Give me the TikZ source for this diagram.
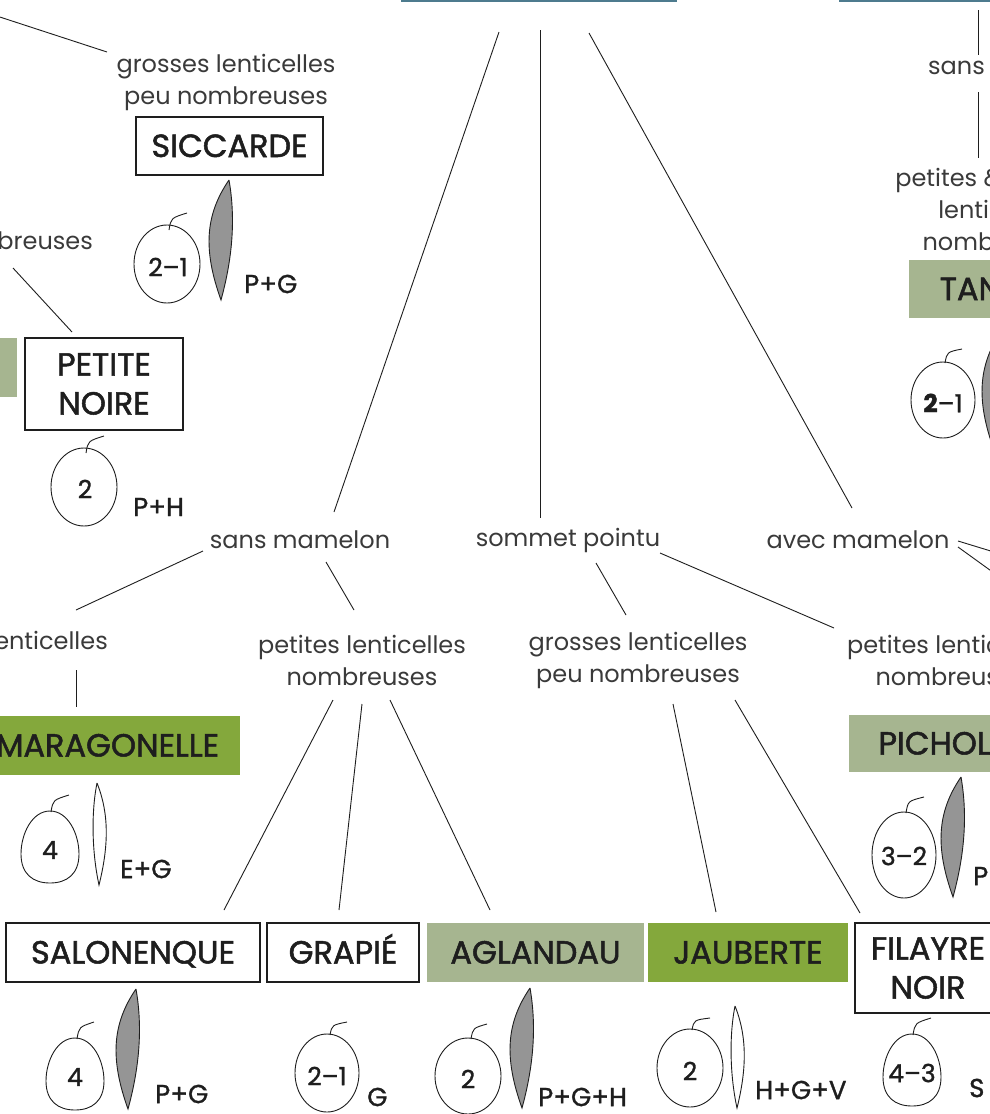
\documentclass[tikz,border=0pt]{standalone}
\usepackage{fontspec}
\setmainfont{Poppins}
\newfontfamily\heavyfam{Poppins}[FakeBold=1.6]
\newfontfamily\midfam{Poppins}[FakeBold=1.2]
\definecolor{brightgreen}{HTML}{84A83C}
\definecolor{sagegreen}{HTML}{A6B590}
\definecolor{leafgray}{HTML}{959595}
\definecolor{topblue}{HTML}{4D7B8E}
\definecolor{labelgray}{HTML}{3A3A3A}
\definecolor{ink}{HTML}{1E1E1E}
\newcommand\lblF{\fontsize{24}{32}\selectfont}
\newcommand\nameF{\heavyfam\fontsize{32}{39}\selectfont}
\newcommand\numF{\midfam\fontsize{25}{28}\selectfont}
\newcommand\codeF{\midfam\fontsize{26}{28}\selectfont}
\begin{document}
\begin{tikzpicture}[x=1pt,y=-1pt,
 crit/.style={font=\lblF, text=labelgray, align=center, inner sep=0pt},
 namebox/.style={font=\nameF, text=ink, align=center, inner sep=0pt, draw=ink, line width=1.4pt, fill=white},
 onerow/.style={text height=22pt, text depth=0pt},
 sagebox/.style={namebox, draw=none, fill=sagegreen},
 greenbox/.style={namebox, draw=none, fill=brightgreen},
 link/.style={draw=ink, line width=0.9pt},
 fruit/.style={draw=ink, line width=0.9pt, fill=white},
 num/.style={font=\numF, text=ink, inner sep=0pt},
 code/.style={font=\codeF, text=ink, inner sep=0pt, anchor=west},
 gleaf/.pic={\draw[draw=ink, line width=0.9pt, fill=leafgray] (0,0) .. controls (-24,35) and (-26,70) .. (-8,120) .. controls (3,80) and (7,40) .. (0,0);},
 wleaf/.pic={\draw[draw=ink, line width=0.9pt, fill=white] (0,0) .. controls (-6,30) and (-5,70) .. (2,102) .. controls (12,62) and (12,30) .. (0,0);},
 egg/.pic={\draw[fruit] (0,-36) .. controls (18,-36) and (29,-13) .. (29,7) .. controls (29,27) and (17,36) .. (0,36) .. controls (-17,36) and (-29,27) .. (-29,7) .. controls (-29,-13) and (-18,-36) .. (0,-36);}
]
\useasboundingbox (0,0) rectangle (990,1114);
\clip (0,0) rectangle (990,1114);
\fill[white] (0,0) rectangle (990,1114);

% top boxes (only bottom edges visible)
\draw[topblue, line width=1.6pt] (402,-80) rectangle (676,1.2);
\draw[topblue, line width=1.6pt] (840,-80) rectangle (1120,1.2);

% criteria labels
\node[crit] (L1) at (226,82) {grosses lenticelles\\peu nombreuses};
\node[crit, anchor=east] (L2) at (93,241) {nombreuses};
\node[crit] (L3) at (300,540) {sans mamelon};
\node[crit] (L4) at (568,540) {sommet pointu};
\node[crit] (L5) at (858,540) {avec mamelon};
\node[crit, anchor=east] (L6) at (108,644) {grosses lenticelles};
\node[crit] (L7) at (362,660) {petites lenticelles\\nombreuses};
\node[crit] (L8) at (638,660) {grosses lenticelles\\peu nombreuses};
\node[crit] (L9) at (951,660) {petites lenticelles\\nombreuses};
\node[crit, anchor=west] (L10) at (928,66) {sans mamelon};
\node[crit] (L11) at (998,209) {petites \& grosses\\lenticelles\\nombreuses};

% variety boxes
\node[namebox, onerow, minimum width=187, minimum height=58] (sic) at (229.5,146) {SICCARDE};
\node[namebox, minimum width=158, minimum height=92] (pn) at (104,384) {PETITE\\NOIRE};
\node[sagebox, minimum width=217, minimum height=59] (lft) at (-91.5,367.5) {};
\node[sagebox, onerow, minimum width=186, minimum height=58] (tan) at (1002,289) {TANCHE};
\node[greenbox, onerow, minimum width=265, minimum height=59] (mar) at (107.5,745.5) {MARAGONELLE};
\node[sagebox, onerow, minimum width=218, minimum height=57] (pic) at (958,743.5) {PICHOLINE};
\node[namebox, onerow, minimum width=254, minimum height=59] (sal) at (133,952.5) {SALONENQUE};
\node[namebox, onerow, minimum width=152, minimum height=59] (gra) at (343,952.5) {GRAPIÉ};
\node[sagebox, onerow, minimum width=217, minimum height=59] (agl) at (535.5,952.5) {AGLANDAU};
\node[greenbox, onerow, minimum width=200, minimum height=59] (jau) at (748,952.5) {JAUBERTE};
\node[namebox, minimum width=146, minimum height=90] (fil) at (928,968) {FILAYRE\\NOIR};

% connector end points
\coordinate (a0) at (-40,4);   \coordinate (a1) at (107,52);
\coordinate (b0) at (499,32);  \coordinate (b1) at (334,512);
\coordinate (c0) at (540,30);  \coordinate (c1) at (540,518);
\coordinate (d0) at (589,33);  \coordinate (d1) at (852,508);
\coordinate (e0) at (13,268);  \coordinate (e1) at (72,332);
\coordinate (f0) at (203,551); \coordinate (f1) at (76,610);
\coordinate (g0) at (326,562); \coordinate (g1) at (354,610);
\coordinate (h0) at (76,670);  \coordinate (h1) at (76,707);
\coordinate (i0) at (333,700); \coordinate (i1) at (224,910);
\coordinate (j0) at (362,704); \coordinate (j1) at (339,910);
\coordinate (k0) at (390,700); \coordinate (k1) at (490,910);
\coordinate (m0) at (596,563); \coordinate (m1) at (626,615);
\coordinate (n0) at (660,553); \coordinate (n1) at (834,628);
\coordinate (o0) at (673,704); \coordinate (o1) at (716,912);
\coordinate (p0) at (735,700); \coordinate (p1) at (860,913);
\coordinate (q0) at (958,541); \coordinate (q1) at (1030,563);
\coordinate (r0) at (958,547); \coordinate (r1) at (1030,599);
\coordinate (s0) at (978,10);  \coordinate (s1) at (978,55);
\coordinate (t0) at (978,92);  \coordinate (t1) at (978,158);

\draw[link] (a0) -- (a1);
\draw[link] (b0) -- (b1);
\draw[link] (c0) -- (c1);
\draw[link] (d0) -- (d1);
\draw[link] (e0) -- (e1);
\draw[link] (f0) -- (f1);
\draw[link] (g0) -- (g1);
\draw[link] (h0) -- (h1);
\draw[link] (i0) -- (i1);
\draw[link] (j0) -- (j1);
\draw[link] (k0) -- (k1);
\draw[link] (m0) -- (m1);
\draw[link] (n0) -- (n1);
\draw[link] (o0) -- (o1);
\draw[link] (p0) -- (p1);
\draw[link] (q0) -- (q1);
\draw[link] (r0) -- (r1);
\draw[link] (s0) -- (s1);
\draw[link] (t0) -- (t1);

% SICCARDE fruit
\draw[fruit] (167,264) ellipse [x radius=33, y radius=39];
\draw[link] (169,230) .. controls (171,218) .. (187,213);
\node[num] (n1) at (168,267) {2–1};
\pic at (229,180) {gleaf};
\node[code] (k1t) at (244,284) {P+G};

% PETITE NOIRE fruit
\draw[fruit] (84,487) ellipse [x radius=33, y radius=39];
\draw[link] (86,453) .. controls (88,441) .. (104,436);
\node[num] (n2) at (85,489) {2};
\node[code] (k2t) at (133,507) {P+H};

% TANCHE fruit
\draw[fruit] (943,400) ellipse [x radius=32, y radius=38];
\draw[link] (945,363) .. controls (947,352) .. (962,349);
\node[num] (n3) at (943,403) {\textbf{2}–1};
\pic at (1002,330) {gleaf};

% MARAGONELLE fruit
\pic at (50,847) {egg};
\draw[link] (51,812) .. controls (53,800) .. (69,795);
\node[num] (n4) at (50,850) {4};
\pic at (97,783) {wleaf};
\node[code] (k4t) at (120,869) {E+G};

% PICHOLINE fruit
\draw[fruit] (904,855) ellipse [x radius=32, y radius=43];
\draw[link] (906,813) .. controls (908,801) .. (924,797);
\node[num] (n5) at (904,856) {3–2};
\pic at (961,777) {gleaf};
\node[code] (k5t) at (973,876) {P+G};

% SALONENQUE fruit
\pic at (75,1074) {egg};
\draw[link] (77,1039) .. controls (79,1027) .. (94,1022);
\node[num] (n6) at (75,1077) {4};
\pic at (136,989) {gleaf};
\node[code] (k6t) at (155,1094) {P+G};

% GRAPIE fruit
\draw[fruit] (327,1073) ellipse [x radius=32, y radius=39];
\draw[link] (330,1035) .. controls (332,1025) .. (347,1022);
\node[num] (n7) at (327,1076) {2–1};
\node[code] (k7t) at (367,1097) {G};

% AGLANDAU fruit
\draw[fruit] (468,1076) ellipse [x radius=33, y radius=38];
\draw[link] (471,1039) .. controls (473,1028) .. (487,1024);
\node[num] (n8) at (468,1079) {2};
\pic at (530,988) {gleaf};
\node[code] (k8t) at (538,1097) {P+G+H};

% JAUBERTE fruit
\draw[fruit] (690,1068) ellipse [x radius=33, y radius=39];
\draw[link] (692,1030) .. controls (694,1020) .. (710,1018);
\node[num] (n9) at (690,1071) {2};
\pic at (735,1006) {wleaf};
\node[code] (k9t) at (755,1090) {H+G+V};

% FILAYRE NOIR fruit
\pic at (912,1070) {egg};
\draw[link] (913,1035) .. controls (915,1023) .. (931,1018);
\node[num] (n10) at (912,1073) {4–3};
\node[code] (k10t) at (969,1088) {S};
\end{tikzpicture}
\end{document}
